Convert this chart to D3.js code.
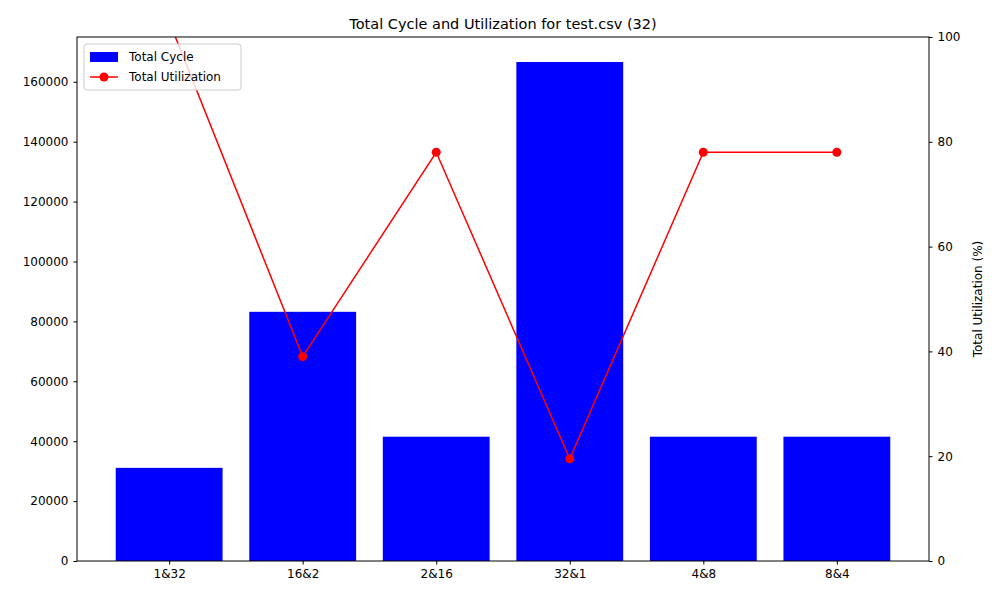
<!DOCTYPE html>
<html><head><meta charset="utf-8">
<script src="https://cdn.jsdelivr.net/npm/d3@7"></script>
<style>body{margin:0;background:#fff}text{font-family:"DejaVu Sans",sans-serif}</style>
</head><body><svg id="c" width="1000" height="600"></svg>
<script>
const categories = ["1&32","16&2","2&16","32&1","4&8","8&4"];
const totalCycle = [31100, 83200, 41500, 166600, 41500, 41500];
const totalUtil = [103, 39, 78, 19.5, 78, 78];
const leftTicks = [0,20000,40000,60000,80000,100000,120000,140000,160000];
const rightTicks = [0,20,40,60,80,100];

const svg = d3.select("#c");
const L=77, R=929, T=37, B=561;
const x = d3.scaleLinear().domain([-0.69, 5.69]).range([L,R]);
const y = d3.scaleLinear().domain([0,174950]).range([B,T]);
const y2 = d3.scaleLinear().domain([0,100]).range([B,T]);

svg.append("clipPath").attr("id","clip").append("rect")
  .attr("x",L).attr("y",T).attr("width",R-L).attr("height",B-T);

svg.append("g").selectAll("rect").data(totalCycle).enter().append("rect")
  .attr("x",(d,i)=>x(i-0.4)).attr("width",x(0.8)-x(0))
  .attr("y",d=>y(d)).attr("height",d=>B-y(d)).attr("fill","#0000ff");

const g = svg.append("g").attr("clip-path","url(#clip)");
g.append("path").datum(totalUtil)
  .attr("d",d3.line().x((d,i)=>x(i)).y(d=>y2(d)))
  .attr("fill","none").attr("stroke","#ff0000").attr("stroke-width",1.5);
g.selectAll("circle").data(totalUtil).enter().append("circle")
  .attr("cx",(d,i)=>x(i)).attr("cy",d=>y2(d)).attr("r",4.5).attr("fill","#ff0000");

function style(a){a.selectAll("text").attr("font-size",12).attr("fill","#000");a.select(".domain").remove();a.selectAll("line").attr("stroke","#000");}
svg.append("g").attr("transform",`translate(0,${B})`)
  .call(d3.axisBottom(x).tickValues(d3.range(6)).tickFormat(i=>categories[i]).tickSizeOuter(0).tickSize(3.5).tickPadding(5)).call(style);
svg.append("g").attr("transform",`translate(${L},0)`)
  .call(d3.axisLeft(y).tickValues(leftTicks).tickFormat(d3.format("d")).tickSize(3.5).tickPadding(5)).call(style);
svg.append("g").attr("transform",`translate(${R},0)`)
  .call(d3.axisRight(y2).tickValues(rightTicks).tickSize(3.5).tickPadding(5)).call(style);

svg.append("rect").attr("x",L).attr("y",T).attr("width",R-L).attr("height",B-T)
  .attr("fill","none").attr("stroke","#000").attr("stroke-width",1);

svg.append("text").attr("x",(L+R)/2).attr("y",29).attr("text-anchor","middle")
  .attr("font-size",14.5).text("Total Cycle and Utilization for test.csv (32)");
svg.append("text").attr("transform",`translate(982,${(T+B)/2}) rotate(-90)`)
  .attr("text-anchor","middle").attr("font-size",12).text("Total Utilization (%)");

const lg = svg.append("g").attr("transform","translate(84,44)");
lg.append("rect").attr("width",157).attr("height",46).attr("rx",3)
  .attr("fill","#fff").attr("fill-opacity",0.8).attr("stroke","#ccc");
lg.append("rect").attr("x",6).attr("y",8).attr("width",28).attr("height",10).attr("fill","#0000ff");
lg.append("text").attr("x",45).attr("y",17).attr("font-size",12).text("Total Cycle");
lg.append("line").attr("x1",6).attr("x2",34).attr("y1",33).attr("y2",33).attr("stroke","#ff0000").attr("stroke-width",1.5);
lg.append("circle").attr("cx",20).attr("cy",33).attr("r",4.5).attr("fill","#ff0000");
lg.append("text").attr("x",45).attr("y",37).attr("font-size",12).text("Total Utilization");
</script></body></html>
